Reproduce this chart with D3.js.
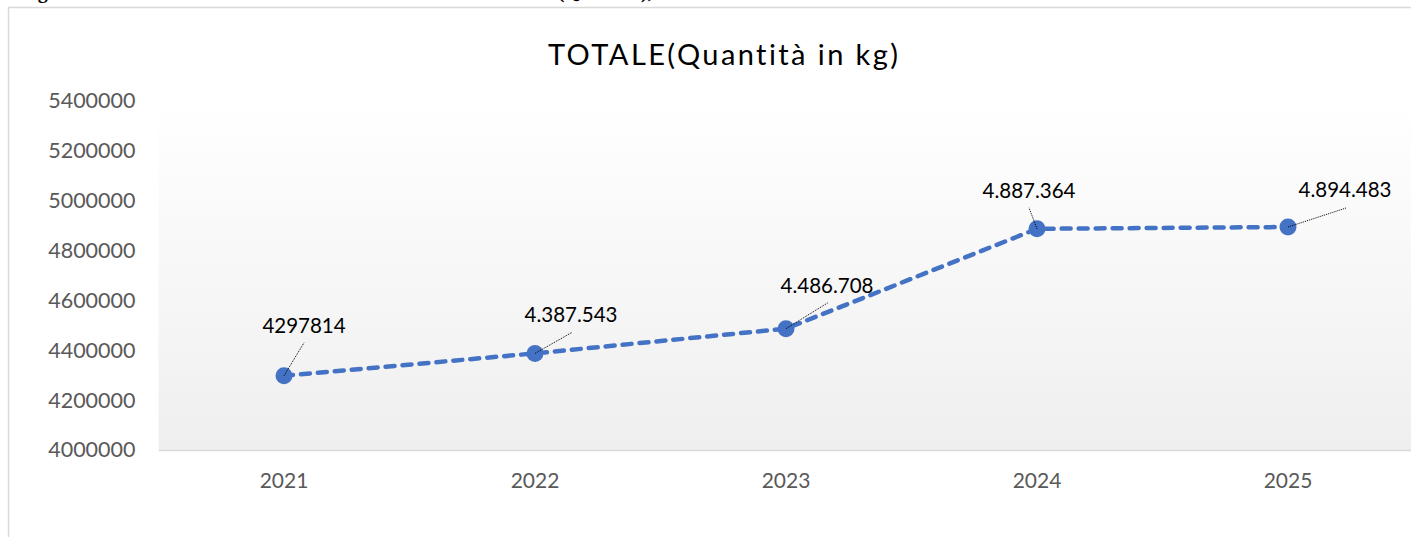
<!DOCTYPE html>
<html>
<head>
<meta charset="utf-8">
<script src="https://cdn.jsdelivr.net/npm/d3@7"></script>
<style>
  html, body { margin: 0; padding: 0; background: #fff; }
  svg { display: block; }
  text { font-variant-ligatures: none; }
</style>
</head>
<body>
<svg></svg>
<script>
// chart data
const years = ['2021', '2022', '2023', '2024', '2025'];
const totals = [4297814, 4387543, 4486708, 4887364, 4894483];
const valueLabels = ['4297814', '4.387.543', '4.486.708', '4.887.364', '4.894.483'];
const yTicks = [4000000, 4200000, 4400000, 4600000, 4800000, 5000000, 5200000, 5400000];

// where each data label sits relative to its point (label centre / leader end)
const labelOffsets = [
  { dx: 20, dy: -43, lx: 20, ly: -33 },
  { dx: 36, dy: -31, lx: 37, ly: -21 },
  { dx: 41, dy: -36, lx: 42, ly: -26 },
  { dx: -8, dy: -31, lx: -8, ly: -21 },
  { dx: 57, dy: -30, lx: 58, ly: -19 }
];

const WIDTH = 1411;
const HEIGHT = 537;
const PLOT_LEFT = 158.5;
const PLOT_RIGHT = 1413.5;
const PLOT_TOP = 101;
const PLOT_BOTTOM = 450;
const FONT = 'Lato, "Open Sans", sans-serif';

const svg = d3.select('svg')
  .attr('width', WIDTH)
  .attr('height', HEIGHT)
  .attr('font-family', FONT);

// caption of the document, cut by the top edge
svg.append('text')
  .text('Figura 3 – Andamento totale della raccolta delle erbe officinali (Quantità), anni 2021 – 2025')
  .attr('x', 20)
  .attr('y', -2)
  .attr('font-family', '"Liberation Serif", serif')
  .attr('font-weight', 'bold')
  .attr('font-size', 20)
  .attr('fill', '#000');

// chart frame
svg.append('path')
  .attr('d', `M8.5,${HEIGHT + 5} V7.5 H${WIDTH + 5}`)
  .attr('fill', 'none')
  .attr('stroke', '#d9d9d9')
  .attr('stroke-width', 1.5);

// plot area gradient
const grad = svg.append('defs').append('linearGradient')
  .attr('id', 'plotGrad')
  .attr('x1', 0).attr('y1', 0).attr('x2', 0).attr('y2', 1);
grad.append('stop').attr('offset', '0%').attr('stop-color', '#ffffff');
grad.append('stop').attr('offset', '100%').attr('stop-color', '#efefef');

svg.append('rect')
  .attr('x', PLOT_LEFT)
  .attr('y', PLOT_TOP)
  .attr('width', PLOT_RIGHT - PLOT_LEFT)
  .attr('height', PLOT_BOTTOM - PLOT_TOP)
  .attr('fill', 'url(#plotGrad)');

svg.append('text')
  .text('TOTALE(Quantità in kg)')
  .attr('x', 548)
  .attr('y', 65)
  .attr('textLength', 350)
  .attr('lengthAdjust', 'spacing')
  .attr('font-size', 29)
  .attr('fill', '#000');

const xScale = d3.scaleBand()
  .domain(years)
  .range([PLOT_LEFT, PLOT_RIGHT])
  .padding(0);
const xPos = d => xScale(d) + xScale.bandwidth() / 2;

const yScale = d3.scaleLinear()
  .domain([4000000, 5400000])
  .range([PLOT_BOTTOM, PLOT_TOP]);

// axes
const yAxis = d3.axisLeft(yScale)
  .tickValues(yTicks)
  .tickSize(0)
  .tickPadding(23)
  .tickFormat(d => String(d));

svg.append('g')
  .attr('id', 'y-axis')
  .attr('transform', `translate(${PLOT_LEFT}, 0)`)
  .call(yAxis)
  .call(g => g.select('.domain').remove())
  .selectAll('text')
    .attr('font-family', FONT)
    .attr('font-size', 21.5)
    .attr('fill', '#595959');

const xAxis = d3.axisBottom(xScale)
  .tickSize(0)
  .tickPadding(23);

svg.append('g')
  .attr('id', 'x-axis')
  .attr('transform', `translate(0, ${PLOT_BOTTOM})`)
  .call(xAxis)
  .call(g => g.select('.domain')
    .attr('stroke', '#d9d9d9')
    .attr('stroke-width', 1.5))
  .selectAll('text')
    .attr('font-family', FONT)
    .attr('font-size', 21)
    .attr('fill', '#595959');

const points = years.map((y, i) => ({ year: y, value: totals[i], label: valueLabels[i], off: labelOffsets[i] }));

// dashed line
const line = d3.line()
  .x(d => xPos(d.year))
  .y(d => yScale(d.value));

svg.append('path')
  .datum(points)
  .attr('d', line)
  .attr('fill', 'none')
  .attr('stroke', '#4472c4')
  .attr('stroke-width', 4.5)
  .attr('stroke-linecap', 'round')
  .attr('stroke-dasharray', '9,8');

// markers
svg.selectAll('circle.marker')
  .data(points)
  .enter()
  .append('circle')
  .attr('class', 'marker')
  .attr('cx', d => xPos(d.year))
  .attr('cy', d => yScale(d.value))
  .attr('r', 8.5)
  .attr('fill', '#4472c4');

// leader lines
svg.selectAll('line.leader')
  .data(points)
  .enter()
  .append('line')
  .attr('class', 'leader')
  .attr('x1', d => xPos(d.year))
  .attr('y1', d => yScale(d.value))
  .attr('x2', d => xPos(d.year) + d.off.lx)
  .attr('y2', d => yScale(d.value) + d.off.ly)
  .attr('stroke', '#000')
  .attr('stroke-width', 1)
  .attr('stroke-dasharray', '1,1');

// data labels
svg.selectAll('text.value')
  .data(points)
  .enter()
  .append('text')
  .attr('class', 'value')
  .attr('x', d => xPos(d.year) + d.off.dx)
  .attr('y', d => yScale(d.value) + d.off.dy)
  .attr('text-anchor', 'middle')
  .attr('font-size', 20.5)
  .attr('fill', '#000')
  .text(d => d.label);
</script>
</body>
</html>
